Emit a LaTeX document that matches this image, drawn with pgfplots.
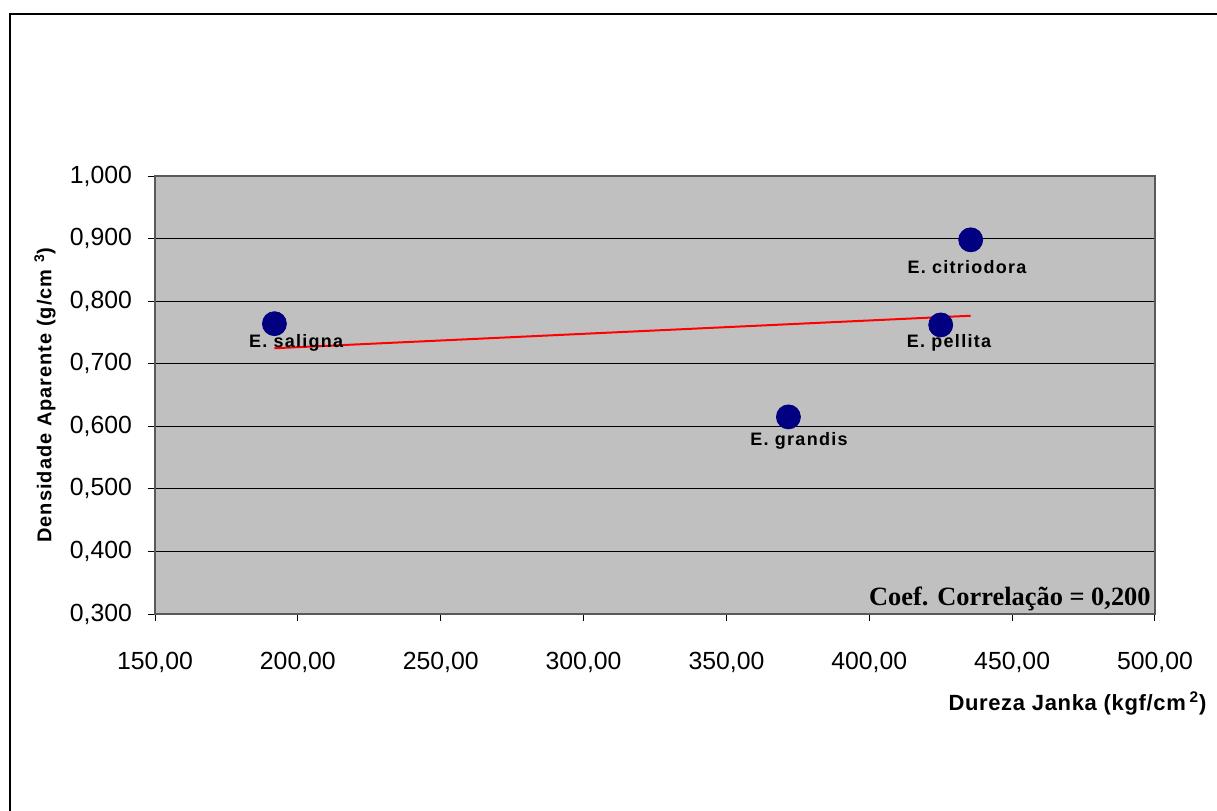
\documentclass[border=0pt]{standalone}
\usepackage{pgfplots}
\pgfplotsset{compat=1.18}
\usepackage{fontspec}
\setmainfont{Liberation Sans}
\newfontfamily\ptfont[LetterSpace=7]{Liberation Sans Bold}
\newfontfamily\ylfont[LetterSpace=5]{Liberation Sans Bold}
\newfontfamily\xlfont[LetterSpace=3]{Liberation Sans Bold}
\newfontfamily\coeffont{Liberation Serif Bold}
\definecolor{plotbg}{HTML}{C0C0C0}
\definecolor{navyc}{HTML}{000080}
\begin{document}
\begin{tikzpicture}
\useasboundingbox (0,0) rectangle (608.5pt,405pt);
\draw[line width=0.8pt] (5pt,-5pt) -- (5pt,398pt) -- (615pt,398pt);
\begin{axis}[
  at={(77.5pt,98pt)}, anchor=south west,
  scale only axis, width=500pt, height=219pt,
  xmin=150, xmax=500, ymin=0.3, ymax=1.0,
  xtick={150,200,250,300,350,400,450,500},
  ytick={0.3,0.4,0.5,0.6,0.7,0.8,0.9,1.0},
  xtick pos=bottom, ytick pos=left,
  tick align=outside, major tick length=3.5pt,
  tick style={black, line width=0.5pt},
  ymajorgrids, major grid style={black, line width=0.5pt},
  axis background/.style={fill=plotbg},
  axis line style={gray!70!black, line width=0.6pt},
  /pgf/number format/assume math mode=true,
  xticklabel style={font=\fontsize{12.4}{14}\selectfont, yshift=-12pt, /pgf/number format/.cd, fixed, fixed zerofill, precision=2, use comma},
  yticklabel style={font=\fontsize{12.4}{14}\selectfont, xshift=-4.5pt, /pgf/number format/.cd, fixed, fixed zerofill, precision=3, use comma},
  scaled ticks=false,
  clip=false,
]
\addplot[red, line width=1pt, no marks] coordinates {(191.8,0.7247) (435.5,0.7767)};
\addplot[only marks, mark=*, mark size=6pt, mark options={fill=navyc, draw=navyc}] coordinates {
  (191.8,0.764) (435.5,0.898) (425.0,0.762) (371.7,0.615)};
\node[font=\ptfont\fontsize{9}{10}\selectfont] at (axis cs:199.4,0.733) {E. saligna};
\node[font=\ptfont\fontsize{9}{10}\selectfont] at (axis cs:434.2,0.854) {E. citriodora};
\node[font=\ptfont\fontsize{9}{10}\selectfont] at (axis cs:427.9,0.733) {E. pellita};
\node[font=\ptfont\fontsize{9}{10}\selectfont] at (axis cs:375.4,0.576) {E. grandis};
\node[font=\coeffont\fontsize{13.2}{15}\selectfont, anchor=base east, inner sep=0pt] at (rel axis cs:0.996,0.0205) {Coef. Correlação = 0,200};
\node[font=\ylfont\fontsize{10}{11}\selectfont, rotate=90] at (rel axis cs:-0.11,0.5) {Densidade Aparente (g/cm \textsuperscript{3})};
\node[font=\xlfont\fontsize{11}{13}\selectfont] at (rel axis cs:0.9225,-0.205) {Dureza Janka (kgf/cm\,\textsuperscript{2})};
\end{axis}
\end{tikzpicture}
\end{document}
